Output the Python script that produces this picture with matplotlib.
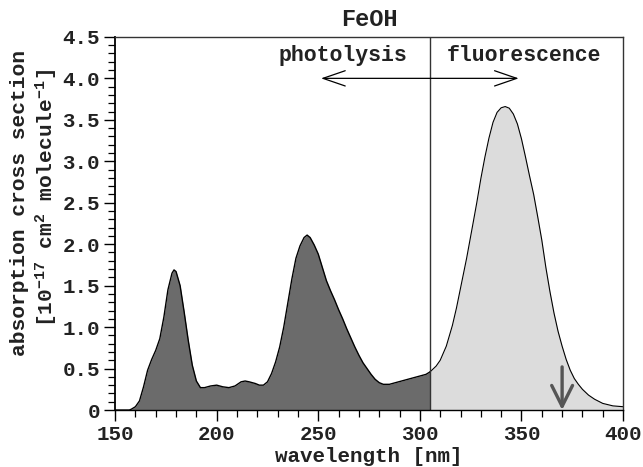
import matplotlib
matplotlib.use('Agg')
import matplotlib.pyplot as plt
from matplotlib.ticker import MultipleLocator, FuncFormatter

# --- dane ---
# widmo absorpcji (fotoliza), nm -> 1e-17 cm^2
abs_wl = [150, 155, 157, 158, 160, 162, 164, 166, 168, 170, 172, 174, 176, 178, 179,
          180, 182, 184, 186, 188, 190, 192, 194, 197, 200, 203, 206, 209, 212, 214,
          216, 219, 221, 223, 225, 227, 229, 231, 233, 235, 237, 239, 241, 243, 244.5,
          246, 248, 250, 252, 254, 256, 258, 260, 262, 264, 266, 268, 270, 272, 274,
          276, 278, 280, 282, 285, 288, 291, 294, 297, 300, 303, 305]
abs_val = [0, 0, 0, 0.01, 0.04, 0.11, 0.28, 0.48, 0.61, 0.72, 0.86, 1.12, 1.45, 1.65, 1.69,
           1.67, 1.50, 1.18, 0.84, 0.54, 0.35, 0.27, 0.27, 0.29, 0.30, 0.28, 0.27, 0.29, 0.34, 0.35,
           0.34, 0.32, 0.30, 0.30, 0.34, 0.44, 0.58, 0.76, 1.00, 1.29, 1.58, 1.83, 1.98, 2.08, 2.11,
           2.08, 1.99, 1.88, 1.72, 1.56, 1.44, 1.33, 1.21, 1.10, 0.98, 0.87, 0.76, 0.66, 0.57, 0.50,
           0.43, 0.37, 0.33, 0.31, 0.31, 0.33, 0.35, 0.37, 0.39, 0.41, 0.43, 0.46]

# pasmo fluorescencji
fl_wl = [305, 308, 310, 313, 316, 318, 320, 323, 326, 328, 330, 332, 334, 336, 338, 340,
         342, 344, 346, 348, 350, 352, 354, 356, 358, 360, 362, 364, 366, 368, 370, 372,
         374, 376, 378, 380, 383, 386, 390, 395, 400]
fl_val = [0.46, 0.53, 0.60, 0.77, 1.02, 1.23, 1.47, 1.83, 2.23, 2.50, 2.79, 3.05, 3.28, 3.47, 3.59, 3.645,
          3.66, 3.64, 3.57, 3.45, 3.27, 3.05, 2.82, 2.60, 2.33, 2.05, 1.72, 1.43, 1.17, 0.95, 0.77, 0.61,
          0.48, 0.38, 0.31, 0.25, 0.18, 0.13, 0.08, 0.05, 0.04]

split_wl = 305      # granica fotoliza / fluorescencja
laser_wl = 370      # strzalka wzbudzenia

FONT = 'Liberation Mono'
plt.rcParams['font.family'] = FONT
plt.rcParams['font.weight'] = 'bold'
plt.rcParams['axes.titleweight'] = 'bold'
plt.rcParams['mathtext.fontset'] = 'custom'
plt.rcParams['mathtext.rm'] = FONT + ':bold'
plt.rcParams['mathtext.default'] = 'rm'

fig = plt.figure(figsize=(6.43, 4.67), dpi=100)
ax = fig.add_axes([0.179, 0.122, 0.790, 0.799])

ax.fill_between(abs_wl, abs_val, 0, color='#6b6b6b', lw=0)
ax.fill_between(fl_wl, fl_val, 0, color='#dcdcdc', lw=0)
ax.plot(abs_wl, abs_val, color='black', lw=1.0)
ax.plot(fl_wl, fl_val, color='black', lw=0.8)
ax.axvline(split_wl, color='#333333', lw=1.0)

# strzalka fotoliza <-> fluorescencja
ax.annotate('', xy=(250, 4.0), xytext=(350, 4.0),
            arrowprops=dict(arrowstyle='<->,head_length=1.6,head_width=0.55', color='black', lw=0.9))
ax.text(294, 4.27, 'photolysis', ha='right', va='center', fontsize=15.5, color='#222222')
ax.text(313, 4.27, 'fluorescence', ha='left', va='center', fontsize=15.5, color='#222222')

# strzalka lasera
ax.annotate('', xy=(laser_wl, 0.0), xytext=(laser_wl, 0.52),
            arrowprops=dict(arrowstyle='->,head_length=1.5,head_width=0.75', color='#555555',
                            lw=2.4, shrinkA=0, shrinkB=0))

ax.set_xlim(150, 400)
ax.set_ylim(0, 4.5)
ax.xaxis.set_major_locator(MultipleLocator(50))
ax.xaxis.set_minor_locator(MultipleLocator(10))
ax.yaxis.set_major_locator(MultipleLocator(0.5))
ax.yaxis.set_minor_locator(MultipleLocator(0.1))
ax.yaxis.set_major_formatter(FuncFormatter(lambda v, p: '0' if v == 0 else f'{v:.1f}'))

ax.tick_params(which='major', direction='out', length=8, width=1, labelsize=15,
               labelcolor='#222222', pad=3)
ax.tick_params(which='minor', direction='out', length=5, width=0.9)
for s in ax.spines.values():
    s.set_color('#333333')
    s.set_linewidth(1.0)
ax.spines['left'].set_linewidth(1.3)
ax.spines['left'].set_color('black')
ax.spines['bottom'].set_color('black')

ax.set_title('FeOH', fontsize=17, color='#222222', pad=8)

# podpisy osi jako zwykly tekst na figurze (mniej miejsca na dole)
fig.text(0.574, 0.003, 'wavelength [nm]', ha='center', va='bottom', fontsize=15,
         color='#222222')
fig.text(0.030, 0.566, 'absorption cross section', rotation=90, ha='center', va='center',
         fontsize=15.3, color='#222222')
fig.text(0.072, 0.577, '[10$^{-17}$ cm$^{2}$ molecule$^{-1}$]', rotation=90, ha='center',
         va='center', fontsize=15.3, color='#222222')

fig.savefig('out.png', dpi=100)
